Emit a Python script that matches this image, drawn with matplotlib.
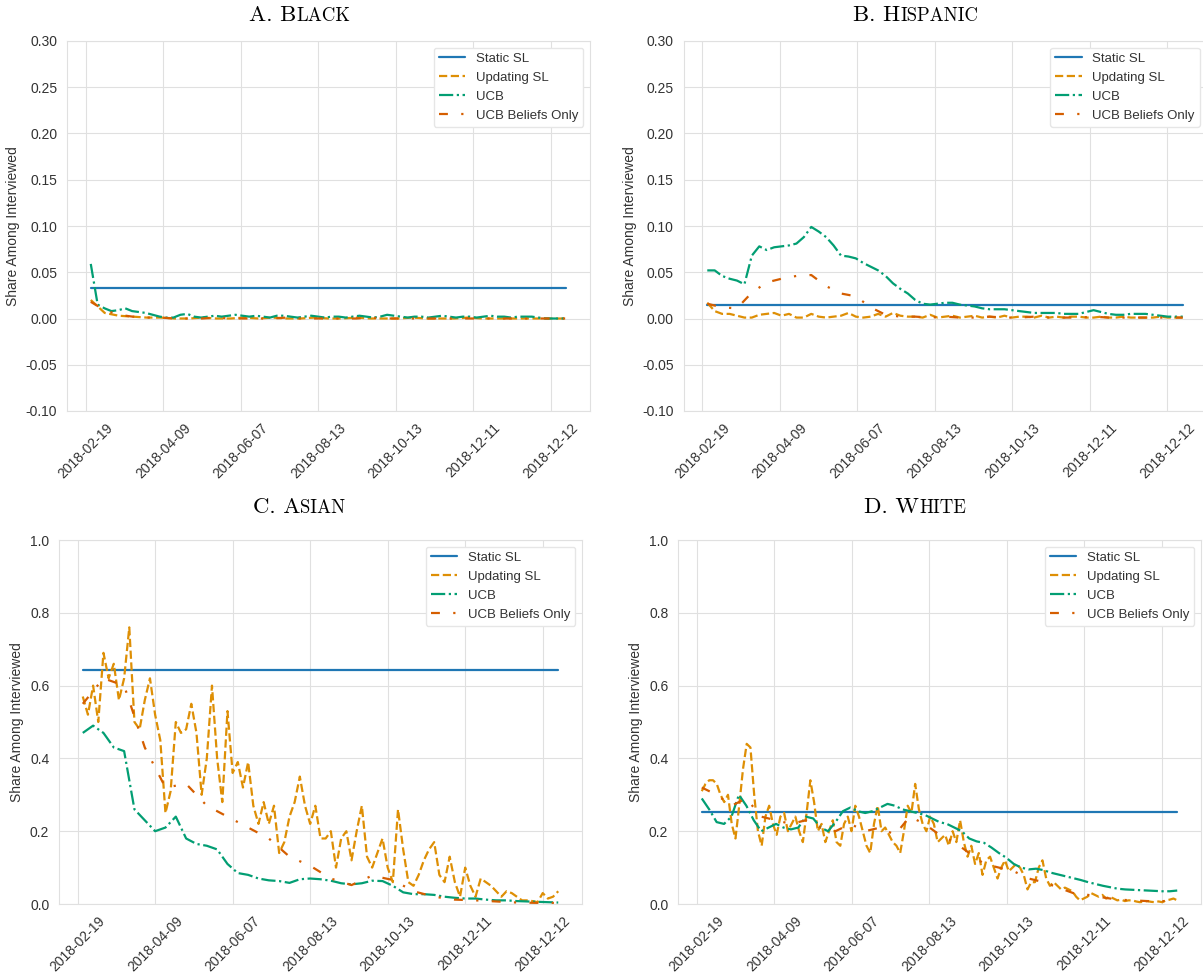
# -*- coding: utf-8 -*-
"""
Share among interviewed by group: Static SL / Updating SL / UCB / UCB beliefs only
"""

import numpy as np
import matplotlib
matplotlib.use('Agg')
import matplotlib.pyplot as plt
import seaborn as sns
from matplotlib.ticker import FormatStrFormatter
from matplotlib.offsetbox import TextArea, HPacker, AnnotationBbox

# asse x: indice del giorno 0..184, etichette (come nel grafico originale)
n_days = 185
tick_labels = ['2018-02-19', '2018-04-09', '2018-06-07', '2018-08-13',
               '2018-10-13', '2018-12-11', '2018-12-12']
tick_first = -2
tick_step = 30

# ---- A. Black
black_static = 0.033
black_upd = [0.02, 0.006, 0.003, 0.002, 0.001, 0.001, 0.0, 0.0, 0.001, 0.0, 0.0, 0.001,
             0.0, 0.001, 0.0, 0.0, 0.001, 0.0, 0.0, 0.001, 0.0, 0.0, 0.0, 0.001, 0.0, 0.0,
             0.0, 0.001, 0.0, 0.0, 0.0, 0.0, 0.0, 0.0, 0.0]
black_ucb = [0.059, 0.015, 0.011, 0.008, 0.009, 0.011, 0.008, 0.007, 0.006, 0.004, 0.002,
             0.001, 0.001, 0.004, 0.005, 0.002, 0.001, 0.002, 0.003, 0.002, 0.003, 0.004,
             0.003, 0.002, 0.003, 0.002, 0.001, 0.003, 0.003, 0.002, 0.001, 0.002, 0.003,
             0.002, 0.001, 0.002, 0.002, 0.001, 0.002, 0.003, 0.002, 0.001, 0.002, 0.004,
             0.003, 0.002, 0.001, 0.002, 0.002, 0.001, 0.002, 0.003, 0.002, 0.001, 0.002,
             0.002, 0.001, 0.002, 0.003, 0.002, 0.002, 0.001, 0.002, 0.002, 0.002, 0.001,
             0.0, 0.0, 0.0, 0.0]
black_bel = [0.018, 0.009, 0.004, 0.002, 0.001, 0.001, 0.0, 0.0, 0.0, 0.001, 0.0, 0.0,
             0.0, 0.0, 0.001, 0.0, 0.0, 0.0, 0.0, 0.0, 0.001, 0.0, 0.0, 0.0, 0.0, 0.0,
             0.0, 0.0, 0.0, 0.0, 0.0, 0.0, 0.0, 0.0, 0.0]

# ---- B. Hispanic
hisp_static = 0.0144
hisp_upd = [0.017, 0.008, 0.005, 0.005, 0.003, 0.001, 0.001, 0.004, 0.005, 0.006, 0.003,
            0.005, 0.001, 0.001, 0.005, 0.002, 0.001, 0.002, 0.003, 0.006, 0.002, 0.001,
            0.002, 0.005, 0.002, 0.006, 0.003, 0.002, 0.002, 0.001, 0.004, 0.001, 0.002,
            0.003, 0.001, 0.002, 0.003, 0.001, 0.002, 0.001, 0.003, 0.001, 0.002, 0.002,
            0.001, 0.003, 0.001, 0.002, 0.001, 0.002, 0.002, 0.001, 0.001, 0.002, 0.001,
            0.001, 0.002, 0.001, 0.001, 0.001, 0.001, 0.002, 0.001, 0.001, 0.001]
hisp_ucb = [0.052, 0.052, 0.046, 0.043, 0.041, 0.037, 0.068, 0.078, 0.074, 0.077, 0.078,
            0.079, 0.081, 0.088, 0.099, 0.094, 0.088, 0.079, 0.068, 0.067, 0.065, 0.06,
            0.056, 0.052, 0.046, 0.038, 0.032, 0.027, 0.02, 0.016, 0.015, 0.016, 0.017,
            0.017, 0.015, 0.014, 0.013, 0.011, 0.01, 0.01, 0.01, 0.009, 0.008, 0.007,
            0.006, 0.006, 0.006, 0.006, 0.005, 0.005, 0.005, 0.007, 0.009, 0.007, 0.005,
            0.004, 0.004, 0.005, 0.005, 0.005, 0.004, 0.003, 0.002, 0.002, 0.002]
hisp_bel = [0.016, 0.012, 0.011, 0.028, 0.039, 0.043, 0.046, 0.047, 0.035, 0.027, 0.024,
            0.012, 0.004, 0.002, 0.002, 0.001, 0.002, 0.001, 0.001, 0.002, 0.001, 0.001,
            0.002, 0.001, 0.001, 0.001, 0.002, 0.001, 0.001, 0.001, 0.001, 0.001, 0.001]

# ---- C. Asian
asian_static = 0.643
asian_upd = [0.57, 0.52, 0.6, 0.5, 0.69, 0.62, 0.66, 0.56, 0.62, 0.76, 0.5, 0.48, 0.56,
             0.62, 0.52, 0.45, 0.25, 0.31, 0.5, 0.47, 0.48, 0.55, 0.47, 0.3, 0.4, 0.6,
             0.4, 0.28, 0.53, 0.36, 0.39, 0.32, 0.39, 0.27, 0.22, 0.28, 0.22, 0.27, 0.14,
             0.17, 0.24, 0.28, 0.35, 0.27, 0.22, 0.27, 0.18, 0.18, 0.2, 0.1, 0.18, 0.2,
             0.12, 0.2, 0.27, 0.13, 0.1, 0.14, 0.18, 0.1, 0.06, 0.26, 0.15, 0.06, 0.05,
             0.08, 0.12, 0.15, 0.17, 0.08, 0.06, 0.13, 0.06, 0.02, 0.1, 0.05, 0.02, 0.07,
             0.06, 0.05, 0.035, 0.02, 0.035, 0.03, 0.02, 0.01, 0.01, 0.008, 0.005, 0.03,
             0.015, 0.02, 0.035]
asian_ucb = [0.47, 0.49, 0.47, 0.43, 0.42, 0.26, 0.23, 0.2, 0.21, 0.24, 0.18, 0.165,
             0.16, 0.15, 0.11, 0.085, 0.08, 0.07, 0.065, 0.063, 0.058, 0.068, 0.07, 0.068,
             0.064, 0.057, 0.054, 0.057, 0.064, 0.063, 0.05, 0.032, 0.027, 0.027, 0.025,
             0.02, 0.017, 0.015, 0.015, 0.012, 0.01, 0.01, 0.008, 0.007, 0.006, 0.005,
             0.004]
asian_bel = [0.55, 0.62, 0.6, 0.43, 0.32, 0.33, 0.27, 0.24, 0.21, 0.18, 0.13, 0.105,
             0.07, 0.052, 0.078, 0.066, 0.035, 0.02, 0.012, 0.01, 0.007, 0.004, 0.003,
             0.003]

# ---- D. White
white_static = 0.254
white_upd = [0.31, 0.33, 0.34, 0.34, 0.33, 0.3, 0.28, 0.3, 0.22, 0.18, 0.27, 0.37, 0.44,
             0.43, 0.3, 0.2, 0.16, 0.24, 0.27, 0.22, 0.19, 0.24, 0.25, 0.2, 0.22, 0.24,
             0.2, 0.17, 0.25, 0.34, 0.28, 0.2, 0.22, 0.17, 0.2, 0.23, 0.17, 0.16, 0.22,
             0.24, 0.2, 0.27, 0.24, 0.2, 0.16, 0.14, 0.22, 0.27, 0.2, 0.21, 0.19, 0.17,
             0.16, 0.14, 0.2, 0.27, 0.25, 0.33, 0.26, 0.22, 0.2, 0.24, 0.22, 0.17, 0.18,
             0.19, 0.16, 0.2, 0.17, 0.23, 0.17, 0.13, 0.16, 0.11, 0.14, 0.08, 0.12, 0.13,
             0.1, 0.07, 0.1, 0.12, 0.09, 0.1, 0.11, 0.1, 0.08, 0.04, 0.06, 0.06, 0.1, 0.12,
             0.07, 0.05, 0.06, 0.05, 0.04, 0.045, 0.04, 0.035, 0.02, 0.01, 0.015, 0.02,
             0.03, 0.025, 0.02, 0.025, 0.015, 0.02, 0.015, 0.01, 0.012, 0.008, 0.01, 0.01,
             0.007, 0.005, 0.006, 0.008, 0.006, 0.005, 0.007, 0.005, 0.01, 0.012, 0.015,
             0.01]
white_ucb = [0.29, 0.26, 0.225, 0.22, 0.24, 0.3, 0.27, 0.23, 0.2, 0.21, 0.22, 0.21, 0.205,
             0.21, 0.24, 0.235, 0.21, 0.2, 0.225, 0.255, 0.265, 0.255, 0.25, 0.255, 0.265,
             0.275, 0.27, 0.26, 0.255, 0.25, 0.245, 0.235, 0.225, 0.22, 0.21, 0.2, 0.18,
             0.172, 0.168, 0.155, 0.14, 0.127, 0.11, 0.1, 0.095, 0.097, 0.093, 0.086, 0.081,
             0.076, 0.071, 0.066, 0.06, 0.055, 0.05, 0.046, 0.042, 0.04, 0.039, 0.038,
             0.037, 0.036, 0.035, 0.035, 0.037]
white_bel = [0.32, 0.3, 0.27, 0.29, 0.24, 0.23, 0.22, 0.23, 0.21, 0.2, 0.22, 0.2, 0.21,
             0.19, 0.24, 0.22, 0.19, 0.17, 0.14, 0.11, 0.1, 0.09, 0.07, 0.06, 0.045, 0.03,
             0.025, 0.018, 0.012, 0.01, 0.008, 0.008, 0.008]

series_names = ['Static SL', 'Updating SL', 'UCB', 'UCB Beliefs Only']

sns.set_style('whitegrid', {'grid.color': '.88', 'axes.edgecolor': '.88'})
plt.rcParams['font.family'] = ['Liberation Sans', 'DejaVu Sans']
plt.rcParams['text.color'] = '#333333'
plt.rcParams['xtick.color'] = '#333333'
plt.rcParams['ytick.color'] = '#333333'
plt.rcParams['axes.labelcolor'] = '#333333'

colori = ['#1f77b4', '#de8f05', '#029e73', '#d55e00']
stili = ['-', '--', '-.', (0, (4, 6, 1, 6))]


def pannello(ax, static, upd, ucb, bel, small_scale):
    giorni = np.arange(n_days)
    ax.plot(giorni, np.full(n_days, static), color=colori[0], ls=stili[0], lw=1.6)
    for serie, c, s in zip([upd, ucb, bel], colori[1:], stili[1:]):
        xx = np.linspace(0, n_days - 1, len(serie))
        ax.plot(xx, serie, color=c, ls=s, lw=1.6)
    if small_scale:
        ax.set_ylim(-0.1, 0.3)
        ax.set_yticks(np.arange(-0.10, 0.301, 0.05))
        ax.yaxis.set_major_formatter(FormatStrFormatter('%.2f'))
    else:
        ax.set_ylim(0, 1)
        ax.set_yticks(np.arange(0, 1.01, 0.2))
        ax.yaxis.set_major_formatter(FormatStrFormatter('%.1f'))
    pos = [tick_first + tick_step * i for i in range(len(tick_labels))]
    ax.set_xticks(pos)
    ax.set_xticklabels(tick_labels, rotation=45, fontsize=10)
    ax.tick_params(axis='y', labelsize=10)
    ax.set_ylabel('Share Among Interviewed', fontsize=10)
    ax.legend(series_names, loc='upper right', fontsize=9.5, frameon=True,
              facecolor='white', edgecolor='.9', framealpha=1)


def titolo(fig, x, y, testa, resto):
    t1 = TextArea(testa, textprops=dict(fontsize=16.5, family='cmr10', color='black'))
    t2 = TextArea(resto, textprops=dict(fontsize=13.5, family='cmr10', color='black'))
    box = HPacker(children=[t1, t2], align='baseline', pad=0, sep=0)
    ab = AnnotationBbox(box, (x, y), xycoords='figure pixels', frameon=False,
                        box_alignment=(0.5, 0.5))
    fig.add_artist(ab)


W, H = 1203, 974
fig = plt.figure(figsize=(W / 100, H / 100), dpi=100)

axA = fig.add_axes([67 / W, (H - 411) / H, 523 / W, 370 / H])
axB = fig.add_axes([683.5 / W, (H - 411) / H, 523 / W, 370 / H])
axC = fig.add_axes([59 / W, (H - 904) / H, 523 / W, 364 / H])
axD = fig.add_axes([678 / W, (H - 904) / H, 523 / W, 364 / H])

pannello(axA, black_static, black_upd, black_ucb, black_bel, True)
pannello(axB, hisp_static, hisp_upd, hisp_ucb, hisp_bel, True)
pannello(axC, asian_static, asian_upd, asian_ucb, asian_bel, False)
pannello(axD, white_static, white_upd, white_ucb, white_bel, False)

titolo(fig, 300, H - 15, 'A. B', 'LACK')
titolo(fig, 916, H - 15, 'B. H', 'ISPANIC')
titolo(fig, 299, H - 507, 'C. A', 'SIAN')
titolo(fig, 915, H - 507, 'D. W', 'HITE')

fig.savefig('out.png', dpi=100)
